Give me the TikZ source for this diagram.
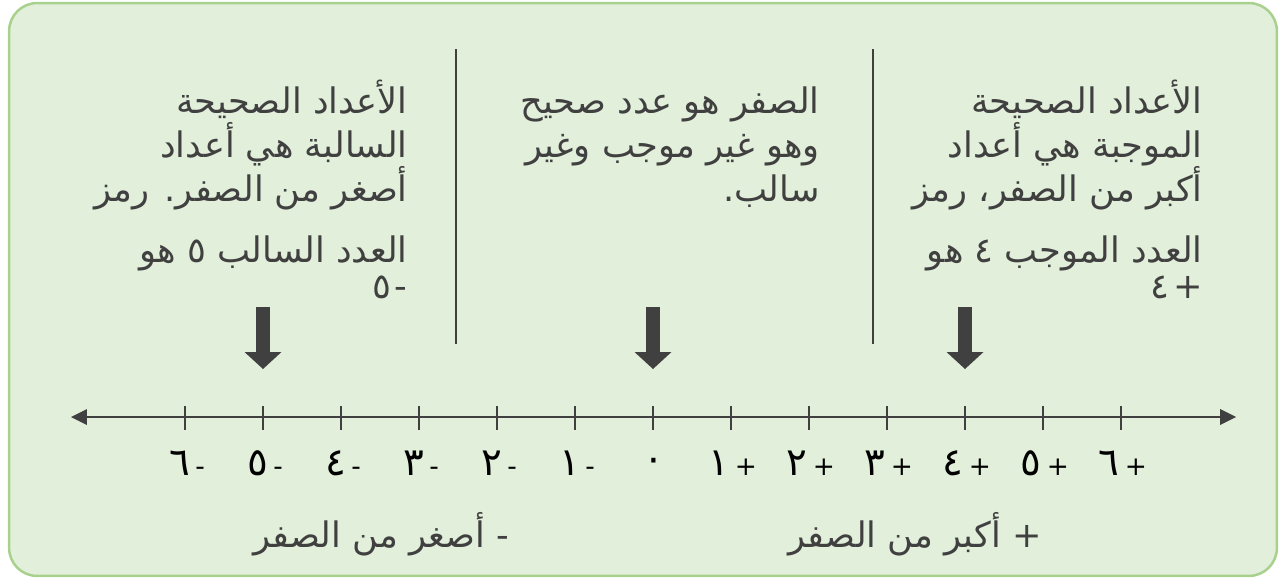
\documentclass[tikz,border=0pt]{standalone}
\usepackage{fontspec}
\usetikzlibrary{arrows.meta,positioning}
\TeXXeTstate=1
\newfontfamily\arabicfont[Script=Arabic]{DejaVu Sans}
\definecolor{cBack}{RGB}{226,239,218}
\definecolor{cEdge}{RGB}{169,209,142}
\definecolor{cInk}{RGB}{64,64,64}
\newcommand{\firststrut}{\rule{0pt}{24pt}}
\newcommand{\bigdigit}[1]{{\fontsize{22}{22}\selectfont #1}}
\tikzset{
  panel/.style={rectangle,draw=cEdge,line width=0.05cm,fill=cBack,
                rounded corners=0.56cm},
  infotext/.style={align=right,anchor=north east,inner sep=0pt,text=cInk,
                   font=\arabicfont\fontsize{20}{25}\selectfont},
  divider/.style={draw=cInk,line width=0.04cm},
  pointer/.style={draw=cInk,line width=0.28cm,
                  -{Triangle[width=0.74cm,length=0.34cm,line width=0pt]}},
  numline/.style={draw=cInk,line width=0.05cm,
                  {Triangle[width=0.32cm,length=0.32cm,line width=0pt]}-{Triangle[width=0.32cm,length=0.32cm,line width=0pt]}},
  tickmark/.style={draw=cInk,line width=0.04cm},
  numlab/.style={font=\arabicfont\fontsize{15}{18}\selectfont,text=black,
                 inner sep=0pt},
  sidelab/.style={font=\arabicfont\fontsize{20}{22}\selectfont,text=cInk,
                  inner sep=0pt,anchor=base}
}

\begin{document}
\begin{tikzpicture}[x=0.02cm,y=-0.02cm]
  \useasboundingbox (0,0) rectangle (1280,578);

  % Board
  \node[panel,minimum width=25.36cm,minimum height=11.46cm] (board) at (643,289.5) {};

  % Dividers
  \coordinate (divAtop) at (456,49);
  \coordinate (divAbot) at (456,344);
  \coordinate (divBtop) at (873,49);
  \coordinate (divBbot) at (873,344);
  \draw[divider] (divAtop) -- (divAbot);
  \draw[divider] (divBtop) -- (divBbot);

  % Texts
  \node[infotext] (negtext) at (408,71)
      {\firststrut\beginR الأعداد الصحيحة\endR\\
       \beginR السالبة هي أعداد\endR\\
       \beginR أصغر من الصفر. رمز\endR\\[10pt]
       \beginR العدد السالب ٥ هو\endR\\[-4.5pt]
       \beginR -\kern2pt٥\endR};

  \node[infotext] (zerotext) at (820,71)
      {\firststrut\beginR الصفر هو عدد صحيح\endR\\
       \beginR وهو غير موجب وغير\endR\\
       \beginR سالب.\endR};

  \node[infotext] (postext) at (1203,71)
      {\firststrut\beginR الأعداد الصحيحة\endR\\
       \beginR الموجبة هي أعداد\endR\\
       \beginR أكبر من الصفر، رمز\endR\\[10pt]
       \beginR العدد الموجب ٤ هو\endR\\[-4.5pt]
       \beginR +\kern2pt٤\endR};

  % Pointers
  \foreach \k in {-5,0,4}{
    \coordinate (ptop\k) at (653+78*\k,307);
    \coordinate (ptip\k) at (653+78*\k,369);
    \draw[pointer] (ptop\k) -- (ptip\k);
  }

  % Number line
  \coordinate (lineL) at (71,417);
  \coordinate (lineR) at (1236,417);
  \draw[numline] (lineL) -- (lineR);
  \foreach \i in {-6,...,6}
    \draw[tickmark] (653+78*\i,406) -- (653+78*\i,430);

  % Numbers
  \node[numlab] (zero) at (654,465) {\beginR\bigdigit{٠}\endR};
  \foreach \i/\d in {1/١,2/٢,3/٣,4/٤,5/٥,6/٦}{
    \node[numlab] (neg\i) at (655-78*\i,463) {\beginR -\kern3pt\bigdigit{\d}\endR};
    \node[numlab] (pos\i) at (655+78*\i,463) {\beginR +\kern3pt\bigdigit{\d}\endR};
  }

  % Side labels
  \node[sidelab] (lesslab) at (381,547) {\beginR - أصغر من الصفر\endR};
  \node[sidelab] (morelab) at (915,547) {\beginR + أكبر من الصفر\endR};

\end{tikzpicture}
\end{document}
